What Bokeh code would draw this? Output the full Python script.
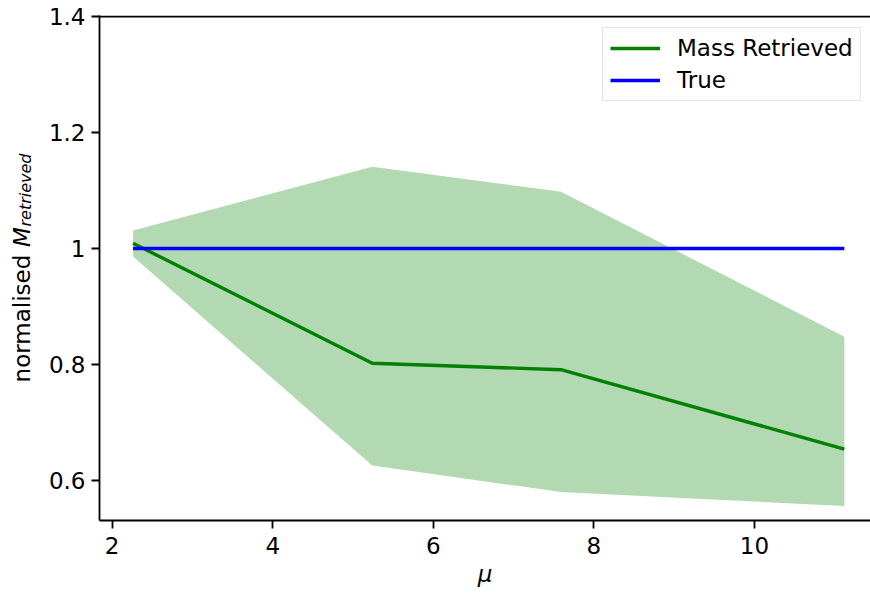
import math
from bokeh.plotting import figure
from bokeh.layouts import row
from bokeh.models import (Range1d, FixedTicker, Legend, LegendItem, Label, Span, ColumnDataSource)
from bokeh.embed import file_html
from bokeh.resources import INLINE

# ---- data ----
mu = [2.26, 5.24, 7.59, 11.12]
mass_retrieved = [1.009, 0.802, 0.791, 0.654]
band_upper = [1.031, 1.141, 1.098, 0.848]
band_lower = [0.986, 0.626, 0.580, 0.556]
true_mass = [1.0, 1.0, 1.0, 1.0]

x_ticks = [2, 4, 6, 8, 10]
y_ticks = [0.6, 0.8, 1.0, 1.2, 1.4]
y_tick_labels = ["0.6", "0.8", "1", "1.2", "1.4"]

FONT = "DejaVu Sans"
FS = "23px"

XMIN, XMAX = 1.842, 11.446
YMIN, YMAX = 0.531, 1.4017

W_LAB = 45
W, H = 870, 593
B_TOP, B_BOT = 15, 73
FRAME_H = H - B_TOP - B_BOT

# ---- narrow panel carrying the y-axis title (frame aligned with main plot) ----
lab = figure(width=W_LAB, height=H, output_backend="svg", toolbar_location=None,
             x_range=Range1d(0, W_LAB), y_range=Range1d(0, FRAME_H),
             min_border_left=0, min_border_right=0, min_border_top=B_TOP, min_border_bottom=B_BOT)
lab.axis.visible = False
lab.grid.visible = False
lab.outline_line_color = None
lab.background_fill_color = "white"
lab.border_fill_color = "white"

ang = math.pi / 2
common = dict(x_units="data", y_units="data", angle=ang, text_font=FONT, text_color="black",
              text_align="left", text_baseline="alphabetic")
lab.add_layout(Label(text="normalised", x=21, y=138.1, text_font_size=FS, **common))
lab.add_layout(Label(text="M", x=21, y=273.5, text_font_size=FS, text_font_style="italic", **common))
lab.add_layout(Label(text="retrieved", x=24.5, y=294.0, text_font_size="16px",
                     text_font_style="italic", **common))

# ---- main plot ----
src = ColumnDataSource(dict(mu=mu, mass=mass_retrieved, up=band_upper, lo=band_lower, tr=true_mass))

p = figure(width=W - W_LAB, height=H, output_backend="svg", toolbar_location=None,
           x_range=Range1d(XMIN, XMAX), y_range=Range1d(YMIN, YMAX),
           min_border_left=99 - W_LAB, min_border_right=0, min_border_top=B_TOP, min_border_bottom=B_BOT)
p.background_fill_color = "white"
p.border_fill_color = "white"
p.outline_line_color = None
p.grid.visible = False

band = p.varea(x="mu", y1="lo", y2="up", source=src, fill_color="green", fill_alpha=0.3)
l1 = p.line(x="mu", y="mass", source=src, line_color="green", line_width=3.4)
l2 = p.line(x="mu", y="tr", source=src, line_color="blue", line_width=3.4)

# top spine
p.add_layout(Span(location=1.4, dimension="width", line_color="black", line_width=1.8))

for ax in (p.xaxis[0], p.yaxis[0]):
    ax.axis_line_width = 1.8
    ax.major_tick_line_width = 1.8
    ax.major_tick_out = 8
    ax.major_tick_in = 0
    ax.minor_tick_out = 0
    ax.minor_tick_in = 0
    ax.major_label_text_font = FONT
    ax.major_label_text_font_size = FS
    ax.major_label_text_color = "black"
    ax.axis_line_color = "black"
    ax.major_tick_line_color = "black"

p.xaxis.ticker = FixedTicker(ticks=x_ticks)
p.xaxis.major_label_standoff = 8
p.xaxis.axis_label = "μ"
p.xaxis.axis_label_text_font = FONT
p.xaxis.axis_label_text_font_size = FS
p.xaxis.axis_label_text_font_style = "italic"
p.xaxis.axis_label_text_color = "black"
p.xaxis.axis_label_standoff = 4

p.yaxis.ticker = FixedTicker(ticks=y_ticks)
p.yaxis.major_label_overrides = {t: s for t, s in zip(y_ticks, y_tick_labels)}
p.yaxis.major_label_standoff = 6

legend = Legend(items=[LegendItem(label="Mass Retrieved", renderers=[l1]),
                       LegendItem(label="True", renderers=[l2])],
                location=(503, 419))
legend.label_text_font = FONT
legend.label_text_font_size = FS
legend.label_text_color = "black"
legend.glyph_width = 50
legend.glyph_height = 22
legend.label_height = 22
legend.label_standoff = 17
legend.padding = 7
legend.spacing = 6
legend.margin = 0
legend.border_line_color = "#cccccc"
legend.border_line_width = 1.5
legend.background_fill_color = "white"
legend.background_fill_alpha = 0.8
p.add_layout(legend)

layout = row(lab, p, spacing=0)
open("out.html", "w").write(file_html(layout, INLINE))
